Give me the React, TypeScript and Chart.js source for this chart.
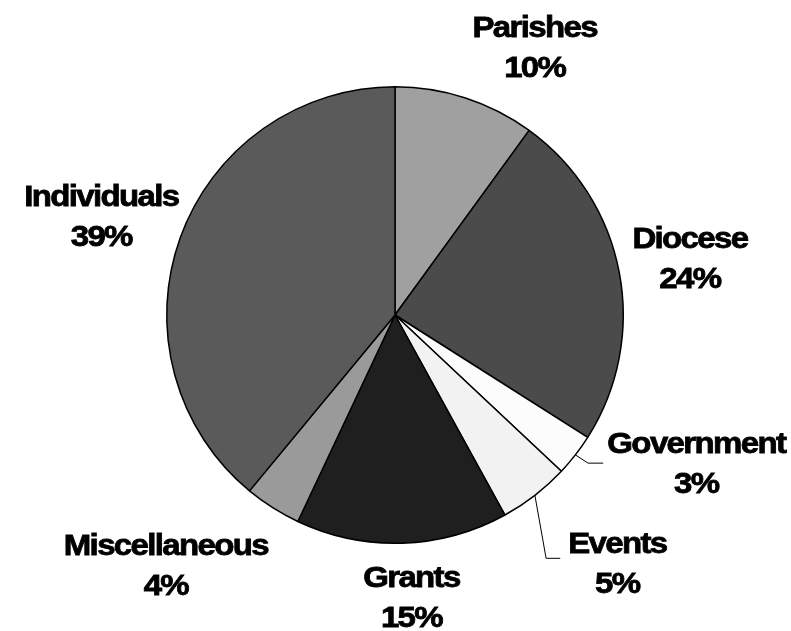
import React, { useEffect, useRef } from "react";
import { Chart, registerables } from "chart.js";

Chart.register(...registerables);

const categories = ["Parishes", "Diocese", "Government", "Events", "Grants", "Miscellaneous", "Individuals"];
const shares = [10, 24, 3, 5, 15, 4, 39];
const sliceColors = ["#a0a0a0", "#4b4b4b", "#fcfcfc", "#f2f2f2", "#1f1f1f", "#9a9a9a", "#5a5a5a"];

// label anchor (text centre x, first baseline y) as fractions of the radius from the pie centre
const labelAnchors: [number, number][] = [
  [0.612, -1.219],
  [1.292, -0.294],
  [1.32, 0.605],
  [0.974, 1.044],
  [0.072, 1.193],
  [-1.004, 1.053],
  [-1.287, -0.478],
];
// leader lines: [elbowX, elbowY, endX] as fractions of radius, or null
const leaders: ([number, number, number] | null)[] = [
  null,
  null,
  [0.846, 0.649, 0.912],
  [0.662, 1.066, 0.724],
  null,
  null,
  null,
];

function drawTight(ctx: any, text: string, x: number, y: number) {
  ctx.save();
  ctx.translate(x, y);
  ctx.scale(1.1, 1);
  try {
    ctx.letterSpacing = "-1.5px";
  } catch (e) {}
  ctx.fillText(text, 0, 0);
  ctx.strokeText(text, 0, 0);
  ctx.restore();
}

const labelPlugin = {
  id: "pieLabels",
  afterDatasetsDraw(chart: any) {
    const ctx = chart.ctx;
    const meta = chart.getDatasetMeta(0);
    const data = chart.data.datasets[0].data as number[];
    const total = data.reduce((a, b) => a + b, 0);
    ctx.save();
    meta.data.forEach((arc: any, i: number) => {
      const { x, y, outerRadius, startAngle, endAngle } = arc.getProps(
        ["x", "y", "outerRadius", "startAngle", "endAngle"],
        true
      );
      const r = outerRadius;
      const ld = leaders[i];
      if (ld) {
        const mid = (startAngle + endAngle) / 2;
        ctx.beginPath();
        ctx.strokeStyle = "#000";
        ctx.lineWidth = 1;
        ctx.moveTo(x + Math.cos(mid) * r, y + Math.sin(mid) * r);
        ctx.lineTo(x + ld[0] * r, y + ld[1] * r);
        ctx.lineTo(x + ld[2] * r, y + ld[1] * r);
        ctx.stroke();
      }
      const [fx, fy] = labelAnchors[i];
      const lx = x + fx * r;
      const ly = y + fy * r;
      ctx.fillStyle = "#000";
      ctx.strokeStyle = "#000";
      ctx.lineWidth = 0.8;
      ctx.font = 'bold 30px "Liberation Sans", Arial, sans-serif';
      ctx.textAlign = "center";
      ctx.textBaseline = "alphabetic";
      drawTight(ctx, chart.data.labels[i], lx, ly);
      drawTight(ctx, Math.round((data[i] / total) * 100) + "%", lx, ly + 40);
    });
    ctx.restore();
  },
};

export default function App() {
  const ref = useRef<HTMLCanvasElement>(null);
  useEffect(() => {
    if (!ref.current) return;
    const chart = new Chart(ref.current, {
      type: "pie",
      data: {
        labels: categories,
        datasets: [
          {
            data: shares,
            backgroundColor: sliceColors,
            borderColor: "#000",
            borderWidth: 1.5,
          },
        ],
      },
      options: {
        animation: false,
        responsive: false,
        maintainAspectRatio: false,
        layout: { padding: { left: 166, right: 167, top: 86, bottom: 87 } },
        plugins: {
          legend: { display: false },
          tooltip: { enabled: false },
        },
      },
      plugins: [labelPlugin],
    });
    return () => chart.destroy();
  }, []);
  return (
    <div style={{ position: "absolute", left: 0, top: 0, width: 791, height: 631, background: "#fff" }}>
      <canvas ref={ref} width={791} height={631} style={{ width: 791, height: 631 }} />
    </div>
  );
}
